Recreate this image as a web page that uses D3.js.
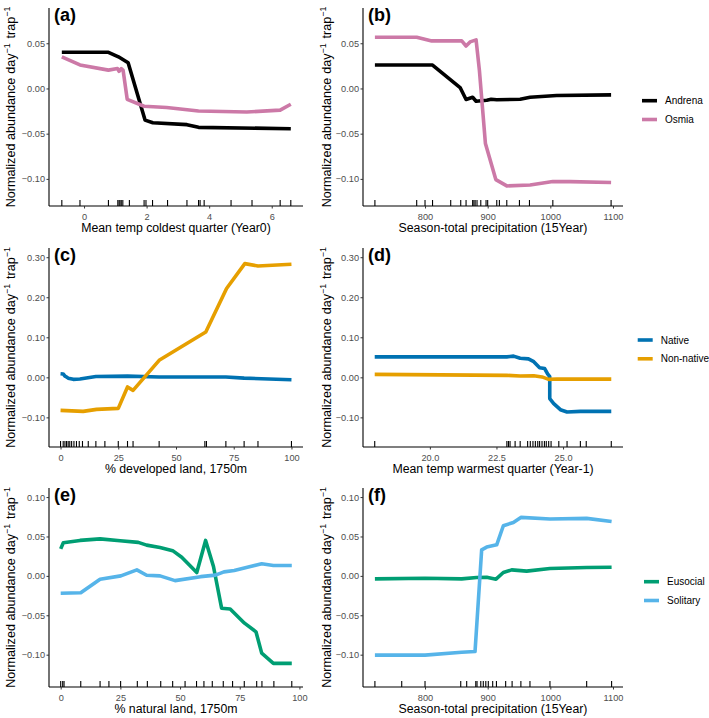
<!DOCTYPE html>
<html><head><meta charset="utf-8">
<script src="https://cdn.jsdelivr.net/npm/d3@7"></script>
<style>body{margin:0;background:#fff}</style>
</head><body>
<svg id="c" width="709" height="718"></svg>
<script>
// ---------- DATA ----------
// (a) Mean temp coldest quarter (Year0)
const aAndrenaX = [-0.71, 0.78, 1.1, 1.41, 1.95, 2.2, 3.29, 3.66, 6.61];
const aAndrenaY = [0.040, 0.040, 0.035, 0.0285, -0.035, -0.038, -0.040, -0.043, -0.0445];
const aOsmiaX = [-0.71, -0.13, 0.78, 1.07, 1.12, 1.19, 1.25, 1.38, 1.92, 2.64, 3.66, 5.2, 6.27, 6.61];
const aOsmiaY = [0.035, 0.026, 0.0203, 0.022, 0.019, 0.022, 0.020, -0.012, -0.0197, -0.021, -0.025, -0.026, -0.024, -0.0175];
const aRug = [-0.71, -0.13, 0.78, 1.08, 1.12, 1.15, 1.19, 1.24, 1.45, 1.92, 1.98, 2.19, 2.67, 3.29, 3.66, 3.71, 3.84, 4.70, 5.37, 6.27, 6.61];

// (b) Season-total precipitation (15Year)
const bAndrenaX = [720, 812, 856, 865.5, 876, 881.5, 898.6, 905.5, 914.5, 951.8, 967.7, 1010, 1097];
const bAndrenaY = [0.0259, 0.0259, 0.001, -0.0122, -0.0097, -0.0141, -0.013, -0.012, -0.0125, -0.0119, -0.0097, -0.0078, -0.0071];
const bOsmiaX = [720, 786.7, 810.7, 858.6, 865.5, 871.9, 881.5, 886.8, 896.4, 913, 930.5, 967.7, 1004, 1031.6, 1097];
const bOsmiaY = [0.0567, 0.0567, 0.0526, 0.0526, 0.047, 0.0515, 0.0537, 0.020, -0.061, -0.1008, -0.1078, -0.1067, -0.103, -0.103, -0.104];
const bRug = [720, 786.7, 800, 812, 841, 857, 865.5, 876, 878, 880, 883, 889, 897.4, 900, 914.5, 918.7, 930.5, 950.7, 966.7, 1004, 1097];

// (c) % developed land, 1750m
const cNativeX = [0, 1.15, 1.9, 2.6, 3.3, 5.5, 8.4, 15.3, 29, 42.7, 71.6, 79.5, 100];
const cNativeY = [0.009, 0.0085, 0.003, 0.0008, -0.002, -0.005, -0.004, 0.002, 0.003, 0.001, 0.001, -0.002, -0.006];
const cNonNativeX = [0, 9.8, 15.6, 25, 29, 31.4, 42.7, 62.9, 71.9, 79.8, 85.5, 100];
const cNonNativeY = [-0.0825, -0.085, -0.080, -0.0775, -0.024, -0.0325, 0.0425, 0.113, 0.222, 0.284, 0.278, 0.2825];
const cRug = [0, 1.15, 1.9, 2.6, 3.3, 4, 4.8, 5.8, 6.9, 8.1, 9.5, 12, 15.3, 19.2, 25, 29, 31.4, 42.7, 62.5, 63.2, 71.6, 79.5, 85.5, 100];

// (d) Mean temp warmest quarter (Year-1)
const dNativeX = [17.93, 22.89, 23.14, 23.39, 23.7, 23.9, 24.12, 24.31, 24.42, 24.5, 24.5, 24.65, 24.9, 25.15, 25.65, 26.81];
const dNativeY = [0.051, 0.051, 0.053, 0.0475, 0.046, 0.039, 0.024, 0.022, 0.0085, 0.0017, -0.053, -0.0658, -0.0808, -0.0866, -0.085, -0.085];
const dNonNativeX = [17.93, 22.89, 23.39, 23.9, 24.21, 24.46, 24.78, 26.81];
const dNonNativeY = [0.0075, 0.005, 0.0035, 0.004, 0.001, -0.005, -0.004, -0.0045];
const dRug = [17.93, 22.89, 22.95, 23.01, 23.2, 23.39, 23.67, 23.77, 23.87, 23.96, 24.05, 24.12, 24.21, 24.3, 24.37, 24.46, 24.55, 24.84, 25.15, 25.65, 25.87, 26.81];

// (e) % natural land, 1750m
const eEusocialX = [0, 1.1, 8.1, 16.5, 24.9, 32.5, 36, 41.6, 46.9, 50.7, 57, 60.7, 64, 67.4, 71, 77, 81.8, 84.2, 89.1, 96.8];
const eEusocialY = [0.0343, 0.042, 0.045, 0.047, 0.0445, 0.0425, 0.039, 0.036, 0.032, 0.0237, 0.0043, 0.045, 0.0119, -0.041, -0.042, -0.060, -0.071, -0.098, -0.111, -0.111];
const eSolitaryX = [0, 8.4, 16.5, 25.2, 31.9, 36, 41.6, 47.9, 58.6, 64.8, 68.4, 72.7, 78.2, 84.2, 89.1, 96.8];
const eSolitaryY = [-0.022, -0.0215, -0.0042, 0.0, 0.0076, 0.0008, 0.0, -0.006, -0.001, 0.001, 0.0051, 0.0068, 0.011, 0.0153, 0.0132, 0.0132];
const eRug = [0, 0.84, 1.4, 8.4, 16.5, 20.2, 25.1, 32.1, 36.3, 41.9, 46.9, 52.1, 56.9, 60, 63.5, 68.1, 72, 76.9, 82.1, 84.3, 89.3, 96.8];

// (f) Season-total precipitation (15Year)
const fEusocialX = [720, 800, 858.5, 882.4, 898.4, 913.3, 925, 938.3, 962.2, 999.4, 1058, 1097.8];
const fEusocialY = [-0.0038, -0.003, -0.0038, -0.002, -0.0017, -0.0042, 0.0043, 0.0076, 0.006, 0.0093, 0.0106, 0.011];
const fSolitaryX = [720, 800, 858.5, 879.8, 890.4, 898.4, 914.4, 925, 941, 953, 999.4, 1058, 1097.8];
const fSolitaryY = [-0.1005, -0.1005, -0.097, -0.096, 0.033, 0.0365, 0.0394, 0.0636, 0.0678, 0.0742, 0.0721, 0.073, 0.069];
const fRug = [720, 762.8, 800, 857, 866.5, 881, 883, 889, 893, 897, 901, 908, 914, 928.7, 939, 953, 967.5, 999.4, 1058, 1097.8];

// tick labels
const ticksA = [0, 2, 4, 6];
const ticksPrecip = [800, 900, 1000, 1100];
const ticksPct = [0, 25, 50, 75, 100];
const ticksWarm = [20.0, 22.5, 25.0];
const ticksY1 = [-0.10, -0.05, 0.00, 0.05];
const ticksY2 = [-0.10, 0.00, 0.10, 0.20, 0.30];
const ticksY3 = [-0.10, -0.05, 0.00, 0.05, 0.10];

const names1 = ["Andrena", "Osmia"];
const names2 = ["Native", "Non-native"];
const names3 = ["Eusocial", "Solitary"];
const colors1 = ["#000000", "#CC79A7"];
const colors2 = ["#0072B2", "#E69F00"];
const colors3 = ["#009E73", "#56B4E9"];

const xTitles = ["Mean temp coldest quarter (Year0)", "Season-total precipitation (15Year)",
  "% developed land, 1750m", "Mean temp warmest quarter (Year-1)",
  "% natural land, 1750m", "Season-total precipitation (15Year)"];
const panelLabels = ["(a)", "(b)", "(c)", "(d)", "(e)", "(f)"];

// ---------- LAYOUT ----------
const svg = d3.select("#c");
const FONT = "'Liberation Sans', Arial, Helvetica, sans-serif";
const colX = [[49, 303], [363, 623]];
const rowY = [[206, 8], [447, 248], [687, 488]];

const panels = [
  {col:0,row:0,xd:[-1.12,7.0],xt:ticksA,xf:d3.format("d"),yd:[-0.13,0.089],yt:ticksY1,
   series:[[aAndrenaX,aAndrenaY],[aOsmiaX,aOsmiaY]],colors:colors1,names:names1,rug:aRug,legend:null},
  {col:1,row:0,xd:[701,1116],xt:ticksPrecip,xf:d3.format("d"),yd:[-0.13,0.089],yt:ticksY1,
   series:[[bAndrenaX,bAndrenaY],[bOsmiaX,bOsmiaY]],colors:colors1,names:names1,rug:bRug,legend:{x:642,y:100.7}},
  {col:0,row:1,xd:[-5,105],xt:ticksPct,xf:d3.format("d"),yd:[-0.174,0.323],yt:ticksY2,
   series:[[cNativeX,cNativeY],[cNonNativeX,cNonNativeY]],colors:colors2,names:names2,rug:cRug,legend:null},
  {col:1,row:1,xd:[17.49,27.25],xt:ticksWarm,xf:d3.format(".1f"),yd:[-0.174,0.323],yt:ticksY2,
   series:[[dNativeX,dNativeY],[dNonNativeX,dNonNativeY]],colors:colors2,names:names2,rug:dRug,legend:{x:637.7,y:340}},
  {col:0,row:2,xd:[-4.9,101.5],xt:ticksPct,xf:d3.format("d"),yd:[-0.141,0.1115],yt:ticksY3,
   series:[[eEusocialX,eEusocialY],[eSolitaryX,eSolitaryY]],colors:colors3,names:names3,rug:eRug,legend:null},
  {col:1,row:2,xd:[701,1116],xt:ticksPrecip,xf:d3.format("d"),yd:[-0.141,0.1115],yt:ticksY3,
   series:[[fEusocialX,fEusocialY],[fSolitaryX,fSolitaryY]],colors:colors3,names:names3,rug:fRug,legend:{x:644,y:581.7}}
];

panels.forEach((p, i) => {
  const xr = colX[p.col], yr = rowY[p.row];
  const x = d3.scaleLinear().domain(p.xd).range(xr);
  const y = d3.scaleLinear().domain(p.yd).range(yr);
  const g = svg.append("g");

  // y axis
  const ya = g.append("g").attr("transform", `translate(${xr[0]},0)`)
    .call(d3.axisLeft(y).tickValues(p.yt).tickFormat(d3.format(".2f")).tickSize(2.5).tickPadding(1.5));
  // x axis
  const xa = g.append("g").attr("transform", `translate(0,${yr[0]})`)
    .call(d3.axisBottom(x).tickValues(p.xt).tickFormat(p.xf).tickSize(2.5).tickPadding(5));
  [ya, xa].forEach(a => {
    a.select(".domain").attr("stroke", "#000").attr("stroke-width", 1.1);
    a.selectAll(".tick line").attr("stroke", "#333").attr("stroke-width", 1);
    a.selectAll(".tick text").attr("fill", "#4D4D4D").style("font-family", FONT).style("font-size", "9.2px");
  });
  ya.select(".domain").attr("d", `M0,${yr[0]}V${yr[1]}`);
  xa.select(".domain").attr("d", `M${xr[0]},0H${xr[1]}`);

  // rug
  g.append("g").selectAll("line").data(p.rug).join("line")
    .attr("x1", d => x(d)).attr("x2", d => x(d))
    .attr("y1", yr[0]).attr("y2", yr[0] - 6)
    .attr("stroke", "#000").attr("stroke-width", 1.1);

  // lines
  const line = d3.line().x(d => x(d[0])).y(d => y(d[1]));
  p.series.forEach((s, k) => {
    const pts = s[0].map((v, j) => [v, s[1][j]]);
    g.append("path").datum(pts).attr("d", line)
      .attr("fill", "none").attr("stroke", p.colors[k]).attr("stroke-width", 3.6)
      .attr("stroke-linejoin", "round").attr("stroke-linecap", "butt");
  });

  // panel label
  g.append("text").attr("x", xr[0] + 5).attr("y", yr[1] + 13)
    .attr("font-family", FONT).attr("font-weight", "bold").attr("font-size", 18)
    .text(panelLabels[i]);

  // x title
  g.append("text").attr("x", (xr[0] + xr[1]) / 2).attr("y", yr[0] + 25.5)
    .attr("text-anchor", "middle").attr("font-family", FONT).attr("font-size", 12.3)
    .text(xTitles[i]);

  // y title
  const ty = g.append("text")
    .attr("transform", `translate(${p.col === 0 ? 15 : 331},${(yr[0] + yr[1]) / 2}) rotate(-90)`)
    .attr("text-anchor", "middle").attr("font-family", FONT).attr("font-size", 12.6);
  ty.append("tspan").text("Normalized abundance");
  ty.append("tspan").attr("dx", 4).text("day");
  ty.append("tspan").attr("dy", -5).attr("font-size", 8.8).text("−1");
  ty.append("tspan").attr("dy", 5).attr("dx", 5).text("trap");
  ty.append("tspan").attr("dy", -5).attr("font-size", 8.8).text("−1");

  // legend
  if (p.legend) {
    p.names.forEach((n, k) => {
      const ly = p.legend.y + k * 18.8;
      g.append("line").attr("x1", p.legend.x).attr("x2", p.legend.x + 15)
        .attr("y1", ly).attr("y2", ly).attr("stroke", p.colors[k]).attr("stroke-width", 3.6);
      g.append("text").attr("x", p.legend.x + 23).attr("y", ly + 3.5)
        .attr("font-family", FONT).attr("font-size", 10).text(n);
    });
  }
});
</script>
</body></html>
